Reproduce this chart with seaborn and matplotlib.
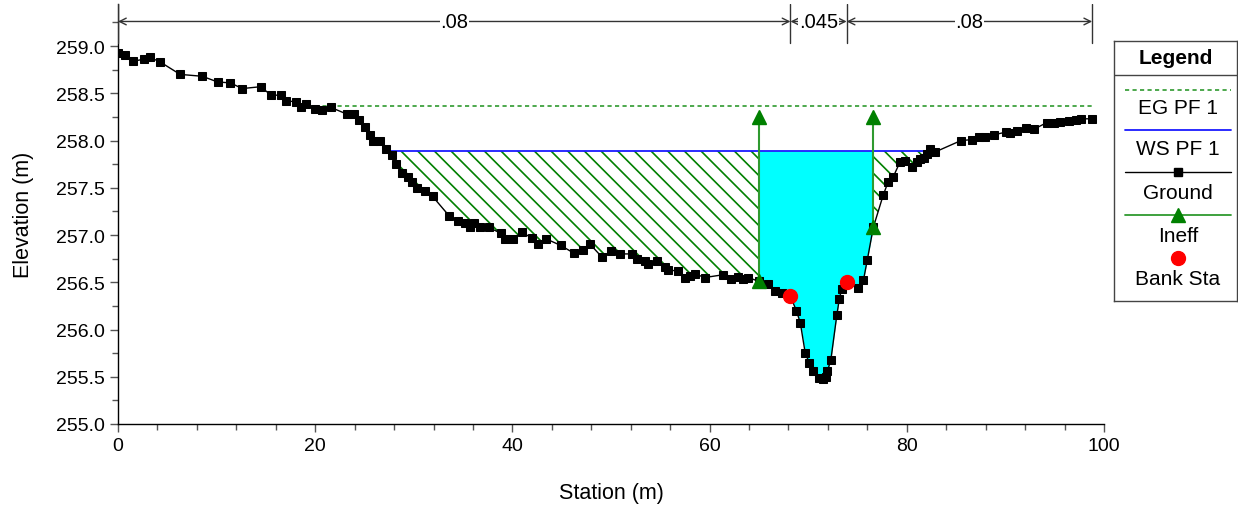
import numpy as np
import pandas as pd
import matplotlib
matplotlib.use("Agg")
import matplotlib.pyplot as plt
import seaborn as sns
from matplotlib.ticker import MultipleLocator

# Cross-section ground survey
station = [0.0, 0.7, 1.55, 2.6, 3.25, 4.3, 6.3, 8.55, 10.1, 11.4, 12.6, 14.5, 15.5, 16.5,
           17.0, 18.1, 18.6, 19.1, 20.0, 20.7, 21.6, 23.2, 23.9, 24.4, 25.05, 25.6, 25.9,
           26.6, 27.15, 27.8, 28.2, 28.8, 29.45, 29.8, 30.35, 31.1, 31.9, 33.6, 34.5, 35.2,
           35.7, 36.1, 36.7, 37.6, 38.8, 39.25, 40.1, 40.95, 41.95, 42.6, 43.4, 44.9, 46.2,
           47.2, 47.9, 49.05, 50.05, 50.9, 52.1, 52.6, 53.4, 53.8, 54.7, 55.5, 55.8, 56.75,
           57.5, 58.0, 58.5, 59.5, 61.4, 62.2, 62.9, 63.4, 63.9, 65.0, 65.95, 66.6, 67.3,
           68.2, 68.8, 69.2, 69.7, 70.1, 70.45, 71.1, 71.5, 71.85, 71.95, 72.3, 72.9, 73.15,
           73.4, 73.9, 75.0, 75.6, 76.0, 76.6, 77.6, 78.1, 78.6, 79.3, 79.8, 80.5, 81.0,
           81.3, 81.7, 82.0, 82.4, 82.9, 85.5, 86.65, 87.35, 87.9, 88.8, 90.1, 90.5, 91.2,
           92.1, 92.9, 94.2, 94.9, 95.5, 96.5, 97.2, 97.7, 98.8]
elevation = [258.93, 258.90, 258.84, 258.86, 258.88, 258.83, 258.70, 258.68, 258.62, 258.61,
             258.55, 258.57, 258.48, 258.48, 258.42, 258.41, 258.36, 258.39, 258.33, 258.32,
             258.35, 258.28, 258.28, 258.22, 258.14, 258.06, 258.00, 258.00, 257.91, 257.85,
             257.75, 257.66, 257.61, 257.56, 257.50, 257.47, 257.41, 257.20, 257.15, 257.13,
             257.09, 257.13, 257.09, 257.08, 257.02, 256.96, 256.96, 257.03, 256.97, 256.90,
             256.96, 256.89, 256.81, 256.84, 256.90, 256.77, 256.83, 256.80, 256.80, 256.75,
             256.73, 256.69, 256.73, 256.66, 256.63, 256.62, 256.55, 256.57, 256.59, 256.55,
             256.58, 256.53, 256.56, 256.53, 256.55, 256.51, 256.48, 256.41, 256.39, 256.35,
             256.20, 256.07, 255.75, 255.65, 255.56, 255.49, 255.48, 255.50, 255.56, 255.68,
             256.15, 256.32, 256.43, 256.50, 256.44, 256.52, 256.74, 257.08, 257.42, 257.56,
             257.61, 257.77, 257.78, 257.72, 257.77, 257.80, 257.82, 257.86, 257.91, 257.88,
             258.00, 258.01, 258.04, 258.04, 258.06, 258.09, 258.08, 258.10, 258.13, 258.12,
             258.19, 258.19, 258.20, 258.21, 258.22, 258.23, 258.23]

ws_elev = 257.89          # water surface, profile PF 1
eg_elev = 258.37          # energy grade, profile PF 1
bank_sta = [68.2, 73.9]   # left / right bank stations
ineff_sta = [65.0, 76.6]  # ineffective flow limits
ineff_elev = 258.25
n_bounds = [0.0, 68.2, 73.9, 98.8]
n_values = [".08", ".045", ".08"]
legend_labels = ["EG PF 1", "WS PF 1", "Ground", "Ineff", "Bank Sta"]

GREEN = "#008000"
LGREEN = "#2f9a2f"

sns.set_theme(style="ticks")
plt.rcParams["font.family"] = ["Liberation Sans", "DejaVu Sans"]
plt.rcParams["hatch.linewidth"] = 1.2
plt.rcParams["text.color"] = "black"
plt.rcParams["axes.labelcolor"] = "black"
plt.rcParams["xtick.labelcolor"] = "black"
plt.rcParams["ytick.labelcolor"] = "black"

ground = pd.DataFrame({"Station": station, "Elevation": elevation})
sta = np.asarray(station)
elev = np.asarray(elevation)

fig = plt.figure(figsize=(12.38, 5.06), dpi=100)
ax = fig.add_axes([118 / 1238, 1 - 425 / 506, 986 / 1238, 420 / 506])

# Extent of the wetted section: outermost crossings of the ground with the water surface
wet = np.where(elev < ws_elev)[0]
i0, i1 = wet[0], wet[-1]
x_left = np.interp(ws_elev, [elev[i0], elev[i0 - 1]], [sta[i0], sta[i0 - 1]])
x_right = np.interp(ws_elev, [elev[i1], elev[i1 + 1]], [sta[i1], sta[i1 + 1]])

xf = np.union1d(sta, [x_left, x_right] + ineff_sta)
gf = np.interp(xf, sta, elev)
wsf = np.full_like(xf, ws_elev)

# Effective flow area
eff = (xf >= ineff_sta[0]) & (xf <= ineff_sta[1])
ax.fill_between(xf, gf, wsf, where=eff, color="#00ffff", linewidth=0, zorder=1)
# Ineffective flow areas (hatched)
for mask in [(xf >= x_left) & (xf <= ineff_sta[0]), (xf >= ineff_sta[1]) & (xf <= x_right)]:
    ax.fill_between(xf, gf, wsf, where=mask & (gf <= ws_elev + 1e-9), interpolate=True,
                    facecolor="none", edgecolor=GREEN, hatch="\\\\", linewidth=0, zorder=1)

# Water surface and energy grade lines
ax.plot([x_left, x_right], [ws_elev, ws_elev], color="#1a1aff", lw=1.3, zorder=3)
eg_idx = np.where(elev < eg_elev)[0][0]
x_eg = np.interp(eg_elev, [elev[eg_idx], elev[eg_idx - 1]], [sta[eg_idx], sta[eg_idx - 1]])
ax.plot([x_eg, sta[-1]], [eg_elev, eg_elev], color=LGREEN, lw=1.2, ls=(0, (2.5, 2)), zorder=3)

# Ground
sns.lineplot(data=ground, x="Station", y="Elevation", ax=ax, color="black", lw=1,
             marker="s", markersize=6.3, markeredgecolor="black", estimator=None,
             sort=False, zorder=4)

# Ineffective flow markers
for s in ineff_sta:
    g = np.interp(s, sta, elev)
    ax.plot([s, s], [g, ineff_elev], color=LGREEN, lw=1.5, zorder=5)
    ax.plot([s, s], [g, ineff_elev], ls="none", marker="^", markersize=10,
            color=GREEN, zorder=6)

# Bank stations
ax.plot(bank_sta, np.interp(bank_sta, sta, elev), ls="none", marker="o", markersize=10,
        color="#ff0000", zorder=7)

# Manning's n regions
arrow_y = 259.26
for x0, x1, lab in zip(n_bounds[:-1], n_bounds[1:], n_values):
    ax.annotate("", xy=(x0, arrow_y), xytext=(x1, arrow_y),
                arrowprops=dict(arrowstyle="<->", color="#333333", lw=1,
                                shrinkA=0, shrinkB=0, mutation_scale=12), zorder=8)
    ax.text((x0 + x1) / 2, arrow_y, lab, ha="center", va="center", fontsize=14.5,
            bbox=dict(facecolor="white", edgecolor="none", pad=0.5), zorder=9)
for x in n_bounds:
    ax.plot([x, x], [259.03, 259.45], color="#333333", lw=1, zorder=8)

ax.set_xlim(0, 100)
ax.set_ylim(255.0, 259.445)
ax.set_xticks([0, 20, 40, 60, 80, 100])
ax.set_yticks(np.arange(255.0, 259.01, 0.5))
ax.yaxis.set_major_formatter(matplotlib.ticker.FormatStrFormatter("%.1f"))
ax.xaxis.set_minor_locator(MultipleLocator(4))
ax.yaxis.set_minor_locator(MultipleLocator(0.25))
ax.tick_params(which="both", direction="out", color="#555555", labelsize=14, width=1)
ax.tick_params(which="major", length=6)
ax.tick_params(which="minor", length=4)
ax.set_xlabel("Station (m)", fontsize=15.5, labelpad=20)
ax.set_ylabel("Elevation (m)", fontsize=15.5, labelpad=16)
sns.despine(ax=ax)
for sp in ["left", "bottom"]:
    ax.spines[sp].set_color("black")
    ax.spines[sp].set_linewidth(1)

# Legend panel
lax = fig.add_axes([1114 / 1238, 1 - 302 / 506, 123 / 1238, 260 / 506])
lax.set_xlim(0, 1)
lax.set_ylim(0, 1)
lax.set_xticks([])
lax.set_yticks([])
for sp in lax.spines.values():
    sp.set_color("#444444")
    sp.set_linewidth(1)
lax.text(0.5, 0.935, "Legend", weight="bold", ha="center", va="center", fontsize=15)
lax.axhline(0.869, color="#444444", lw=1)
lx = [0.09, 0.95]
lax.plot(lx, [0.812] * 2, color=LGREEN, lw=1.2, ls=(0, (2.5, 2)))
lax.plot(lx, [0.658] * 2, color="#1a1aff", lw=1.3)
lax.plot(lx, [0.496] * 2, color="black", lw=1)
lax.plot([0.52], [0.496], marker="s", markersize=6.3, color="black")
lax.plot(lx, [0.331] * 2, color=LGREEN, lw=1.3)
lax.plot([0.52], [0.331], marker="^", markersize=10, color=GREEN)
lax.plot([0.52], [0.165], marker="o", markersize=10, color="#ff0000")
for yy, lab in zip([0.746, 0.585, 0.419, 0.25, 0.088], legend_labels):
    lax.text(0.52, yy, lab, ha="center", va="center", fontsize=15)

fig.savefig("out.png", dpi=100)
